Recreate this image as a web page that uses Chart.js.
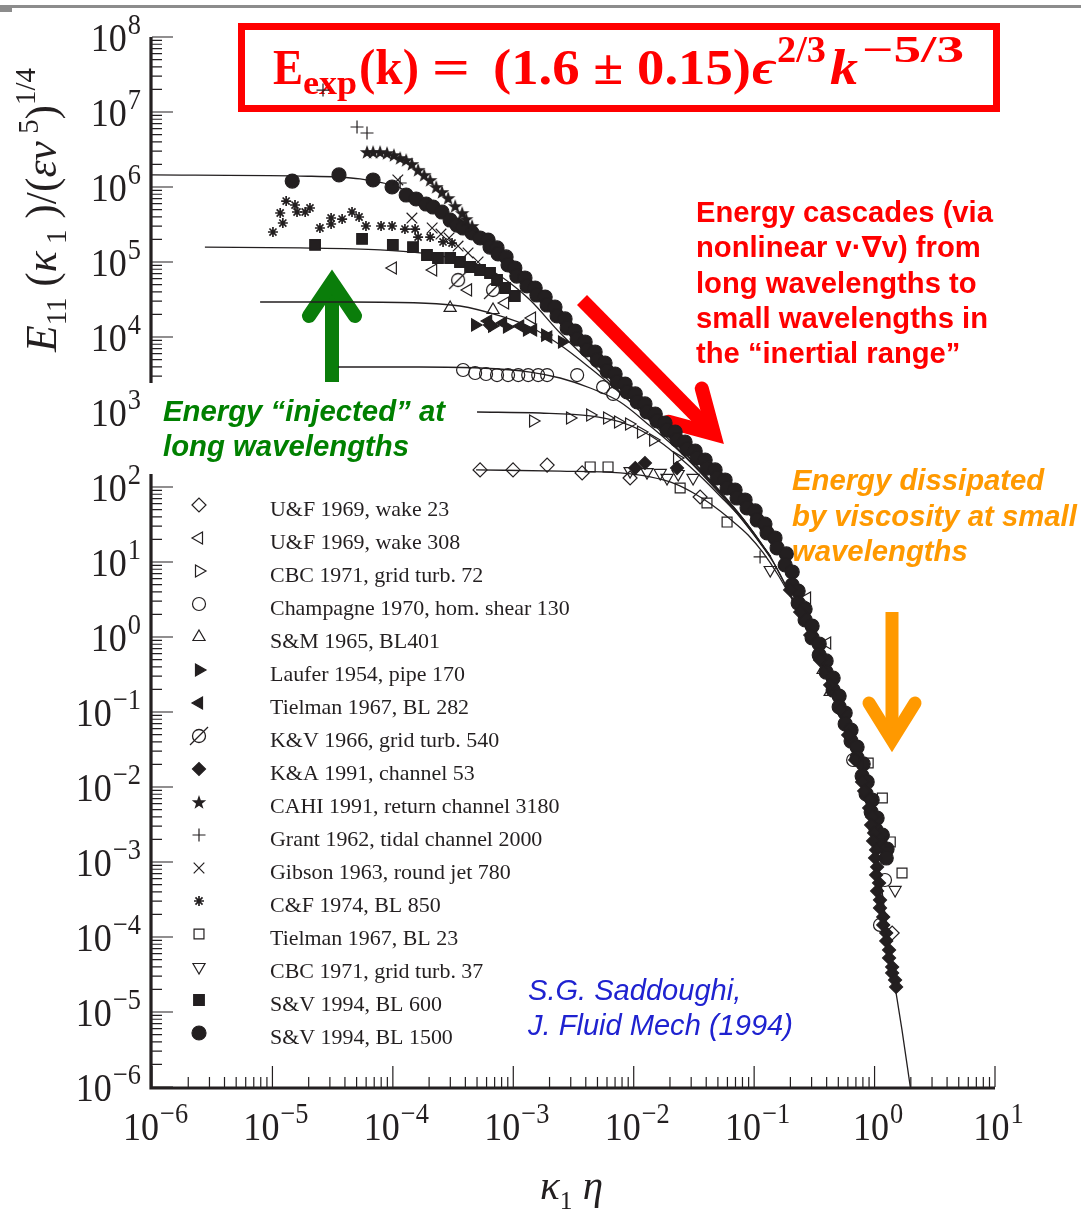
<!DOCTYPE html>
<html>
<head>
<meta charset="utf-8">
<script src="https://cdn.jsdelivr.net/npm/chart.js@4.4.1/dist/chart.umd.min.js"></script>
<style>
  html, body { margin: 0; padding: 0; background: #fff; }
  canvas { display: block; }
</style>
</head>
<body>
<canvas id="chart" width="1081" height="1212"></canvas>
<script>
const INK = '#231f20'
const SERIF = "'Liberation Serif', 'DejaVu Serif', serif"
const SANS = "'Liberation Sans', 'DejaVu Sans', sans-serif"

// axis ranges and decade tick labels (10^n)
const xMin = 1e-6, xMax = 10
const yMin = 1e-6, yMax = 1e8
const xTickExps = [-6, -5, -4, -3, -2, -1, 0, 1]
const yTickExps = [-6, -5, -4, -3, -2, -1, 0, 1, 2, 3, 4, 5, 6, 7, 8]

// model spectra (solid lines), [k1*eta, E11]
const curveA = [[1e-6, 1.45e6], [1.70e-5, 1.40e6], [5.34e-5, 1.28e6], [1.15e-4, 9.70e5], [2.47e-4, 4.93e5], [5.30e-4, 1.96e5], [1.14e-3, 5.75e4], [2.45e-3, 1.58e4], [5.26e-3, 4.37e3], [1.13e-2, 1.20e3], [2.43e-2, 331], [5.21e-2, 85.8], [9.26e-2, 28.4], [0.136, 12.0]]
const curveB = [[2.75e-6, 1.58e5], [1.70e-5, 1.54e5], [7.83e-5, 1.45e5], [1.68e-4, 1.32e5], [3.61e-4, 1.06e5], [6.41e-4, 7.82e4], [9.40e-4, 5.25e4], [1.38e-3, 3.11e4], [2.45e-3, 1.13e4], [4.35e-3, 4.64e3], [7.71e-3, 1.85e3], [1.37e-2, 759], [2.43e-2, 302], [4.31e-2, 117], [7.64e-2, 42.4], [0.136, 12.0]]
const curveC = [[7.9e-6, 2.93e4], [4.41e-5, 2.93e4], [1.68e-4, 2.84e4], [3.61e-4, 2.59e4], [7.76e-4, 1.91e4], [1.38e-3, 1.36e4], [2.45e-3, 7.82e3], [4.35e-3, 3.86e3], [7.71e-3, 1.79e3], [1.37e-2, 782], [2.43e-2, 331], [4.31e-2, 124], [7.64e-2, 42.4], [0.136, 12.0]]
const curveD = [[3.51e-5, 3.98e3], [1.68e-4, 3.98e3], [5.30e-4, 3.86e3], [1.38e-3, 3.41e3], [2.45e-3, 2.84e3], [4.35e-3, 2.09e3], [7.71e-3, 1.36e3], [1.37e-2, 650], [2.43e-2, 293], [4.31e-2, 113], [7.64e-2, 39.8], [0.136, 12.0]]
const curveE = [[5.0e-4, 1.0e3], [1.67e-3, 970], [4.35e-3, 885], [7.71e-3, 736], [1.13e-2, 575], [1.66e-2, 398], [2.43e-2, 244], [3.56e-2, 140], [5.21e-2, 75.9], [7.64e-2, 39.8], [0.112, 17.9], [0.149, 9.12], [0.211, 3.11]]
const curveF = [[4.91e-4, 169], [2.45e-3, 163], [7.71e-3, 154], [1.37e-2, 136], [2.21e-2, 110], [3.24e-2, 80.7], [4.48e-2, 57.5], [6.31e-2, 37.4], [8.91e-2, 22.9], [0.119, 13.2], [0.158, 6.71], [0.219, 2.67], [0.353, 0.671]]
const curveTail = [[0.136, 12.0], [0.211, 3.11], [0.353, 0.671], [0.518, 0.145], [0.703, 3.11e-2], [0.868, 6.71e-3], [1.03, 1.45e-3], [1.18, 3.11e-4], [1.32, 6.71e-5], [1.48, 2.16e-5], [1.69, 5.75e-6], [1.98, 1.0e-6]]

// measured spectra, one array per data set
const uf23 = [[5.30e-4, 169], [9.95e-4, 169], [1.91e-3, 196], [3.73e-3, 154], [9.33e-3, 132], [3.56e-2, 73.6], [1.40, 1.13e-4]]
const uf308 = [[1.00e-4, 8.32e4], [2.16e-4, 7.82e4], [4.21e-4, 4.24e4], [8.55e-4, 2.84e4], [1.43e-3, 1.79e4], [0.275, 3.31], [0.404, 0.832]]
const cbc72 = [[1.46e-3, 759], [2.96e-3, 832], [4.35e-3, 912], [6.01e-3, 832], [7.41e-3, 736], [9.15e-3, 692], [1.15e-2, 541], [1.45e-2, 424], [2.29e-2, 244]]
const champagne = [[3.83e-4, 3.63e3], [4.82e-4, 3.31e3], [5.94e-4, 3.21e3], [7.33e-4, 3.11e3], [9.05e-4, 3.11e3], [1.10e-3, 3.11e3], [1.33e-3, 3.11e3], [1.61e-3, 3.11e3], [1.91e-3, 3.11e3], [3.39e-3, 3.11e3], [5.57e-3, 2.15e3], [6.75e-3, 1.74e3], [0.664, 2.29e-2], [1.22, 5.75e-4], [1.11, 1.45e-4]]
const sm1965 = [[2.99e-4, 2.44e4], [6.79e-4, 2.29e4], [0.374, 0.363], [0.428, 0.185]]
const laufer = [[4.82e-4, 1.45e4], [6.67e-4, 1.40e4], [8.87e-4, 1.36e4], [1.30e-3, 1.24e4], [1.84e-3, 1.06e4], [2.54e-3, 8.58e3]]
const tielman282 = [[6.18e-4, 1.63e4], [8.22e-4, 1.54e4], [1.14e-3, 1.40e4], [1.46e-3, 1.24e4], [1.95e-3, 1.0e4]]
const kv1966 = [[3.48e-4, 5.75e4], [6.79e-4, 4.24e4]]
const ka1991 = [[6.41e-4, 1.45e4], [1.03e-2, 179], [1.24e-2, 209], [2.29e-2, 179], [0.199, 4.24], [0.241, 2.15], [0.292, 1.06], [0.353, 0.493], [0.428, 0.229], [0.518, 0.106], [0.604, 4.93e-2], [0.690, 2.29e-2], [0.788, 1.17e-2], [0.820, 8.85e-3], [0.919, 6.71e-3], [0.902, 5.25e-3], [0.955, 3.98e-3], [0.937, 3.11e-3], [0.992, 2.44e-3], [0.973, 1.91e-3], [1.03, 1.45e-3], [1.01, 1.13e-3], [1.05, 8.58e-4], [1.03, 6.71e-4], [1.09, 5.25e-4], [1.05, 4.10e-4], [1.11, 3.11e-4], [1.11, 2.44e-4], [1.18, 1.85e-4], [1.18, 1.45e-4], [1.25, 1.13e-4], [1.25, 8.85e-5], [1.32, 6.71e-5], [1.32, 5.25e-5], [1.40, 3.98e-5], [1.40, 3.31e-5], [1.48, 2.67e-5], [1.51, 2.16e-5]]
const cahi = [[6.1e-5, 2.93e6], [6.85e-5, 2.93e6], [7.83e-5, 2.93e6], [8.95e-5, 2.84e6], [1.02e-4, 2.67e6], [1.15e-4, 2.44e6], [1.29e-4, 2.29e6], [1.44e-4, 2.03e6], [1.62e-4, 1.69e6], [1.82e-4, 1.45e6], [2.04e-4, 1.24e6], [2.29e-4, 1.0e6], [2.56e-4, 8.58e5], [2.88e-4, 7.13e5], [3.29e-4, 5.58e5], [3.76e-4, 4.50e5], [4.06e-4, 3.74e5], [4.55e-4, 3.02e5]]
const grant = [[2.63e-5, 1.96e7], [5.04e-5, 6.31e6], [6.1e-5, 5.25e6], [1.15e-4, 1.13e6], [0.112, 11.7]]
const gibson = [[1.10e-4, 1.24e6], [1.44e-4, 3.86e5], [2.12e-4, 2.84e5], [2.51e-4, 2.36e5], [2.93e-4, 2.09e5], [3.48e-4, 1.63e5], [4.21e-4, 1.32e5], [5.10e-4, 1.0e5]]
const cf1974 = [[1.01e-5, 2.51e5], [1.16e-5, 4.50e5], [1.22e-5, 3.31e5], [1.30e-5, 6.50e5], [1.54e-5, 5.75e5], [1.60e-5, 4.64e5], [1.87e-5, 4.64e5], [2.05e-5, 5.25e5], [2.48e-5, 2.84e5], [3.07e-5, 3.86e5], [3.07e-5, 3.21e5], [3.79e-5, 3.74e5], [4.58e-5, 4.64e5], [5.24e-5, 3.98e5], [5.98e-5, 3.02e5], [7.98e-5, 3.02e5], [9.85e-5, 3.02e5], [1.26e-4, 2.75e5], [1.53e-4, 2.75e5], [1.62e-4, 2.15e5], [2.04e-4, 2.15e5], [2.61e-4, 1.85e5], [3.10e-4, 1.79e5]]
const tielman23 = [[4.35e-3, 185], [6.12e-3, 185], [2.43e-2, 97.0], [4.06e-2, 61.2], [5.96e-2, 34.1], [0.885, 2.09e-2], [1.16, 7.13e-3], [1.35, 1.85e-3], [1.69, 7.13e-4]]
const cbc37 = [[9.33e-3, 163], [1.29e-2, 158], [1.66e-2, 154], [1.89e-2, 132], [2.34e-2, 149], [3.11e-2, 132], [0.136, 7.82], [1.48, 4.24e-4]]
const sv600 = [[2.26e-5, 1.69e5], [5.55e-5, 2.03e5], [1.00e-4, 1.69e5], [1.47e-4, 1.58e5], [1.92e-4, 1.24e5], [2.37e-4, 1.13e5], [2.99e-4, 1.13e5], [3.61e-4, 1.0e5], [4.38e-4, 8.58e4], [5.30e-4, 7.82e4], [6.41e-4, 7.13e4], [7.33e-4, 5.75e4], [8.55e-4, 4.50e4], [1.03e-3, 3.52e4]]
const sv1500 = [[1.46e-5, 1.20e6], [3.57e-5, 1.45e6], [6.85e-5, 1.24e6], [9.85e-5, 1.0e6], [1.29e-4, 7.82e5], [1.56e-4, 6.92e5], [1.89e-4, 5.93e5], [2.16e-4, 5.41e5], [2.56e-4, 4.64e5], [2.99e-4, 3.63e5], [3.41e-4, 3.11e5], [3.83e-4, 2.84e5], [4.55e-4, 2.44e5], [5.30e-4, 2.09e5], [6.18e-4, 1.96e5], [6.41e-4, 1.58e5], [7.33e-4, 1.54e5], [7.48e-4, 1.28e5], [8.71e-4, 1.17e5], [9.05e-4, 9.12e4], [1.03e-3, 8.32e4], [1.07e-3, 6.50e4], [1.25e-3, 6.12e4], [1.30e-3, 4.79e4], [1.52e-3, 4.50e4], [1.57e-3, 3.63e4], [1.84e-3, 3.41e4], [1.91e-3, 2.67e4], [2.22e-3, 2.51e4], [2.31e-3, 1.91e4], [2.69e-3, 1.74e4], [2.80e-3, 1.32e4], [3.26e-3, 1.20e4], [3.39e-3, 9.40e3], [3.95e-3, 8.58e3], [4.10e-3, 6.71e3], [4.78e-3, 6.31e3], [4.97e-3, 4.93e3], [5.78e-3, 4.50e3], [6.01e-3, 3.52e3], [7.01e-3, 3.21e3], [7.28e-3, 2.51e3], [8.49e-3, 2.36e3], [8.81e-3, 1.85e3], [1.03e-2, 1.74e3], [1.07e-2, 1.36e3], [1.24e-2, 1.28e3], [1.29e-2, 1.0e3], [1.51e-2, 940], [1.56e-2, 759], [1.82e-2, 713], [1.89e-2, 575], [2.21e-2, 541], [2.29e-2, 424], [2.67e-2, 398], [2.77e-2, 321], [3.24e-2, 302], [3.36e-2, 244], [3.92e-2, 229], [4.06e-2, 179], [4.74e-2, 169], [4.92e-2, 132], [5.74e-2, 124], [5.96e-2, 97.0], [6.95e-2, 91.2], [7.21e-2, 71.3], [8.41e-2, 67.1], [8.73e-2, 52.5], [0.102, 47.9], [0.106, 36.3], [0.123, 32.1], [0.128, 24.4], [0.149, 20.9], [0.155, 15.4], [0.185, 12.8], [0.181, 9.12], [0.207, 7.36], [0.207, 4.93], [0.232, 4.10], [0.232, 2.84], [0.265, 2.36], [0.265, 1.69], [0.303, 1.40], [0.303, 0.970], [0.347, 0.807], [0.347, 0.575], [0.396, 0.479], [0.396, 0.341], [0.453, 0.284], [0.453, 0.196], [0.508, 0.163], [0.508, 0.117], [0.570, 9.70e-2], [0.570, 6.92e-2], [0.638, 5.75e-2], [0.638, 4.10e-2], [0.716, 3.41e-2], [0.716, 2.44e-2], [0.804, 2.03e-2], [0.788, 1.40e-2], [0.868, 1.17e-2], [0.851, 8.07e-3], [0.955, 6.71e-3], [0.937, 4.64e-3], [1.05, 3.86e-3], [1.03, 2.67e-3], [1.16, 2.29e-3], [1.14, 1.63e-3], [1.27, 1.49e-3], [1.25, 1.13e-3]]

const legendLabels = ['U&F 1969, wake 23', 'U&F 1969, wake 308', 'CBC 1971, grid turb. 72', 'Champagne 1970, hom. shear 130', 'S&M 1965, BL401', 'Laufer 1954, pipe 170', 'Tielman 1967, BL 282', 'K&V 1966, grid turb. 540', 'K&A 1991, channel 53', 'CAHI 1991, return channel 3180', 'Grant 1962, tidal channel 2000', 'Gibson 1963, round jet 780', 'C&F 1974, BL 850', 'Tielman 1967, BL 23', 'CBC 1971, grid turb. 37', 'S&V 1994, BL 600', 'S&V 1994, BL 1500']
const seriesData = [uf23, uf308, cbc72, champagne, sm1965, laufer, tielman282, kv1966, ka1991, cahi, grant, gibson, cf1974, tielman23, cbc37, sv600, sv1500]

// custom marker images
function starImage() {
	const c = document.createElement('canvas')
	c.width = c.height = 18
	const g = c.getContext('2d')
	g.fillStyle = INK
	g.beginPath()
	for (let i = 0; i < 10; i++) {
		const r = i % 2 ? 3.1 : 7.6
		const a = -Math.PI / 2 + i * Math.PI / 5
		g.lineTo(9 + r * Math.cos(a), 9.7 + r * Math.sin(a))
	}
	g.closePath()
	g.fill()
	return c
}
function slashImage() {
	const c = document.createElement('canvas')
	c.width = c.height = 22
	const g = c.getContext('2d')
	g.strokeStyle = INK
	g.lineWidth = 1.3
	g.beginPath()
	g.arc(11, 11, 6.5, 0, 2 * Math.PI)
	g.stroke()
	g.beginPath()
	g.moveTo(2, 20)
	g.lineTo(20, 2)
	g.stroke()
	return c
}

const markerStyles = [
	{ shape: 'rectRot', r: 7 },
	{ shape: 'triangle', r: 7, rot: -90 },
	{ shape: 'triangle', r: 7, rot: 90 },
	{ shape: 'circle', r: 6.5 },
	{ shape: 'triangle', r: 7 },
	{ shape: 'triangle', r: 7, rot: 90, fill: true },
	{ shape: 'triangle', r: 7, rot: -90, fill: true },
	{ shape: slashImage(), r: 8 },
	{ shape: 'rectRot', r: 6.5, fill: true },
	{ shape: starImage(), r: 8 },
	{ shape: 'cross', r: 6.5 },
	{ shape: 'crossRot', r: 7.5 },
	{ shape: 'star', r: 5, bw: 1.7 },
	{ shape: 'rect', r: 7 },
	{ shape: 'triangle', r: 7, rot: 180 },
	{ shape: 'rect', r: 7.5, fill: true },
	{ shape: 'circle', r: 7, fill: true },
]

const toXY = (pts) => pts.map(([x, y]) => ({ x, y }))

const markerSets = seriesData.map((pts, i) => {
	const s = markerStyles[i]
	return {
		label: legendLabels[i],
		data: toXY(pts),
		showLine: false,
		pointStyle: s.shape,
		pointRadius: s.r,
		pointRotation: s.rot || 0,
		pointBackgroundColor: s.fill ? INK : 'rgba(0,0,0,0)',
		pointBorderColor: INK,
		pointBorderWidth: s.bw || 1.2,
		clip: false,
		order: 1,
	}
})

const lineSets = [curveA, curveB, curveC, curveD, curveE, curveF, curveTail].map((pts) => ({
	data: toXY(pts),
	showLine: true,
	pointRadius: 0,
	borderColor: INK,
	borderWidth: 1.3,
	cubicInterpolationMode: 'monotone',
	clip: false,
	order: 5,
}))

// ---------- drawing helpers ----------
function powLabel(ctx, exp, x, baseY, align) {
	const sq = 0.88
	const sup = exp < 0 ? '\u2212' + -exp : String(exp)
	ctx.font = '41px ' + SERIF
	const wb = ctx.measureText('10').width * sq
	ctx.font = '30px ' + SERIF
	const ws = ctx.measureText(sup).width * sq
	const x0 = align === 'right' ? x - wb - ws - 1 : x - (wb + ws) / 2
	ctx.save()
	ctx.translate(x0, baseY)
	ctx.scale(sq, 1)
	ctx.font = '41px ' + SERIF
	ctx.fillText('10', 0, 0)
	ctx.restore()
	ctx.save()
	ctx.translate(x0 + wb + 1, baseY - 17)
	ctx.scale(sq, 1)
	ctx.font = '30px ' + SERIF
	ctx.fillText(sup, 0, 0)
	ctx.restore()
}

// draws a run of text pieces, font size fitted so the run is `width` long
function runs(ctx, parts, x, y, width) {
	let total = 0
	parts.forEach((p) => {
		ctx.font = `${p.st || ''} ${100 * (p.k || 1)}px ${SERIF}`
		total += ctx.measureText(p.t).width
	})
	const size = (100 * width) / total
	let cx = x
	parts.forEach((p) => {
		ctx.font = `${p.st || ''} ${size * (p.k || 1)}px ${SERIF}`
		ctx.fillText(p.t, cx, y + (p.dy || 0) * size)
		cx += ctx.measureText(p.t).width
	})
}

function textBlock(ctx, lines, x, base, step, color, style, family, fitLine, fitWidth) {
	ctx.font = `${style} 100px ${family}`
	const size = (100 * fitWidth) / ctx.measureText(fitLine).width
	ctx.font = `${style} ${size}px ${family}`
	ctx.fillStyle = color
	lines.forEach((l, i) => ctx.fillText(l, x, base + i * step))
}

function arrow(ctx, color, width, tail, tip, armA, armB) {
	ctx.save()
	ctx.strokeStyle = color
	ctx.lineWidth = width
	ctx.lineCap = 'butt'
	ctx.beginPath()
	ctx.moveTo(tail[0], tail[1])
	ctx.lineTo(tip[0], tip[1])
	ctx.stroke()
	ctx.lineCap = 'round'
	ctx.lineJoin = 'miter'
	ctx.miterLimit = 10
	ctx.beginPath()
	ctx.moveTo(armA[0], armA[1])
	ctx.lineTo(tip[0], tip[1])
	ctx.lineTo(armB[0], armB[1])
	ctx.stroke()
	ctx.restore()
}

const decorations = {
	id: 'decorations',
	beforeDraw(chart) {
		const { ctx, width, height } = chart
		ctx.save()
		ctx.fillStyle = '#fff'
		ctx.fillRect(0, 0, width, height)
		ctx.fillStyle = '#8c8c8c'
		ctx.fillRect(0, 5, width, 3)
		ctx.fillRect(0, 8, 12, 4)
		ctx.restore()
	},
	beforeDatasetsDraw(chart) {
		const { ctx } = chart
		const xs = chart.scales.x
		const ys = chart.scales.y
		const left = xs.getPixelForValue(xMin)
		const right = xs.getPixelForValue(xMax)
		const top = ys.getPixelForValue(yMax)
		const bottom = ys.getPixelForValue(yMin)
		ctx.save()

		// ticks (inside), axis lines
		ctx.strokeStyle = INK
		ctx.lineWidth = 1.2
		ctx.beginPath()
		yTickExps.forEach((e, i) => {
			for (let m = 1; m <= 9; m++) {
				if (i === yTickExps.length - 1 && m > 1) break
				const py = ys.getPixelForValue(m * 10 ** e)
				ctx.moveTo(left, py)
				ctx.lineTo(left + (m === 1 ? 21 : 10), py)
			}
		})
		xTickExps.forEach((e, i) => {
			for (let m = 1; m <= 9; m++) {
				if (i === xTickExps.length - 1 && m > 1) break
				const px = xs.getPixelForValue(m * 10 ** e)
				ctx.moveTo(px, bottom)
				ctx.lineTo(px, bottom - (m === 1 ? 21 : 10))
			}
		})
		ctx.stroke()
		ctx.lineWidth = 3.2
		ctx.beginPath()
		ctx.moveTo(left - 1, top)
		ctx.lineTo(left - 1, bottom + 1)
		ctx.lineTo(right, bottom + 1)
		ctx.stroke()

		// tick labels
		ctx.fillStyle = INK
		ctx.textBaseline = 'alphabetic'
		ctx.textAlign = 'left'
		yTickExps.forEach((e) => powLabel(ctx, e, 141, ys.getPixelForValue(10 ** e) + 14, 'right'))
		xTickExps.forEach((e) => powLabel(ctx, e, xs.getPixelForValue(10 ** e) + 3, 1140, 'center'))

		// axis titles
		ctx.save()
		ctx.translate(56, 352)
		ctx.rotate(-Math.PI / 2)
		runs(ctx, [
			{ t: 'E', st: 'italic' },
			{ t: '11', k: 0.66, dy: 0.22 },
			{ t: ' (', k: 1 },
			{ t: '\u03ba', st: 'italic' },
			{ t: ' 1', k: 0.66, dy: 0.22 },
			{ t: ' )/(' },
			{ t: '\u03b5\u03bd', st: 'italic' },
			{ t: ' 5', k: 0.66, dy: -0.42 },
			{ t: ')' },
			{ t: '1/4', k: 0.66, dy: -0.48 },
		], 0, 0, 284)
		ctx.restore()
		runs(ctx, [
			{ t: '\u03ba', st: 'italic' },
			{ t: '1', k: 0.62, dy: 0.25 },
			{ t: ' \u03b7', st: 'italic' },
		], 540, 1199, 63)

		// green arrow and text (white patch hides the axis behind the text)
		arrow(ctx, '#0a7d0a', 14, [332, 382], [332, 282], [309, 316], [355, 316])
		ctx.fillStyle = '#fff'
		ctx.fillRect(146, 383, 318, 91)
		textBlock(ctx, ['Energy \u201cinjected\u201d at', 'long wavelengths'], 163, 421, 34.5, '#008000',
			'bold italic', SANS, 'Energy \u201cinjected\u201d at', 282)

		// red formula box
		ctx.strokeStyle = '#ff0000'
		ctx.lineWidth = 7
		ctx.fillStyle = '#fff'
		ctx.fillRect(241.5, 26.5, 755, 82)
		ctx.strokeRect(241.5, 26.5, 755, 82)
		ctx.fillStyle = '#ff0000'
		const formula = [
			{ t: 'E', x: 273, f: 'bold 50px', b: 84, w: 30 },
			{ t: 'exp', x: 303, f: 'bold 34px', b: 94, w: 54 },
			{ t: '(k)', x: 359, f: 'bold 50px', b: 84, w: 60 },
			{ t: '=', x: 432, f: 'bold 50px', b: 84, w: 38 },
			{ t: '(1.6 \u00b1 0.15)', x: 493, f: 'bold 50px', b: 84, w: 258 },
			{ t: '\u03f5', x: 752, f: 'bold italic 50px', b: 84, w: 24 },
			{ t: '2/3', x: 777, f: 'bold 37px', b: 62, w: 49 },
			{ t: 'k', x: 830, f: 'bold italic 50px', b: 84, w: 28 },
			{ t: '\u22125/3', x: 862, f: 'bold 37px', b: 62, w: 102 },
		]
		formula.forEach((p) => {
			ctx.font = `${p.f} ${SERIF}`
			const nat = ctx.measureText(p.t).width
			ctx.save()
			ctx.translate(p.x, p.b)
			ctx.scale(p.w / nat, 1)
			ctx.fillText(p.t, 0, 0)
			ctx.restore()
		})

		// red cascade arrow and text
		arrow(ctx, '#ff0000', 14, [582, 300], [714, 434], [668.6, 421.8], [701.8, 388.6])
		textBlock(ctx, ['Energy cascades (via', 'nonlinear v\u00b7\u2207v) from', 'long wavelengths to', 'small wavelengths in', 'the \u201cinertial range\u201d'],
			696, 222, 35.3, '#ff0000', 'bold', SANS, 'Energy cascades (via', 297)

		// orange dissipation arrow and text
		arrow(ctx, '#ff9900', 13, [892, 612], [892, 740], [869, 703], [915, 703])
		textBlock(ctx, ['Energy dissipated', 'by viscosity at small', 'wavelengths'], 792, 490, 35.5, '#ff9900',
			'bold italic', SANS, 'by viscosity at small', 285)

		// citation
		textBlock(ctx, ['S.G. Saddoughi,', 'J. Fluid Mech (1994)'], 528, 1000, 35, '#1f22d0',
			'italic', SANS, 'J. Fluid Mech (1994)', 265)

		ctx.restore()
	},
	afterDatasetsDraw(chart) {
		const { ctx } = chart
		ctx.save()
		ctx.font = '100px ' + SERIF
		const size = (100 * 300) / ctx.measureText(legendLabels[3]).width
		legendLabels.forEach((label, i) => {
			const ds = chart.data.datasets[i]
			const y = 505 + i * 33
			ctx.fillStyle = ds.pointBackgroundColor
			ctx.strokeStyle = ds.pointBorderColor
			ctx.lineWidth = ds.pointBorderWidth
			Chart.helpers.drawPoint(ctx, {
				pointStyle: ds.pointStyle,
				rotation: ds.pointRotation,
				radius: ds.pointRadius,
				borderWidth: ds.pointBorderWidth,
			}, 199, y)
			ctx.fillStyle = INK
			ctx.font = `${size}px ${SERIF}`
			ctx.fillText(label, 270, y + 11)
		})
		ctx.restore()
	},
}

const chart = new Chart(document.getElementById('chart'), {
	type: 'scatter',
	data: { datasets: [...markerSets, ...lineSets] },
	options: {
		responsive: false,
		animation: false,
		events: [],
		layout: { padding: { left: 152, right: 86, top: 37, bottom: 125 } },
		scales: {
			x: { type: 'logarithmic', min: xMin, max: xMax, display: false },
			y: { type: 'logarithmic', min: yMin, max: yMax, display: false },
		},
		plugins: { legend: { display: false }, tooltip: { enabled: false } },
	},
	plugins: [decorations],
})
</script>
</body>
</html>
